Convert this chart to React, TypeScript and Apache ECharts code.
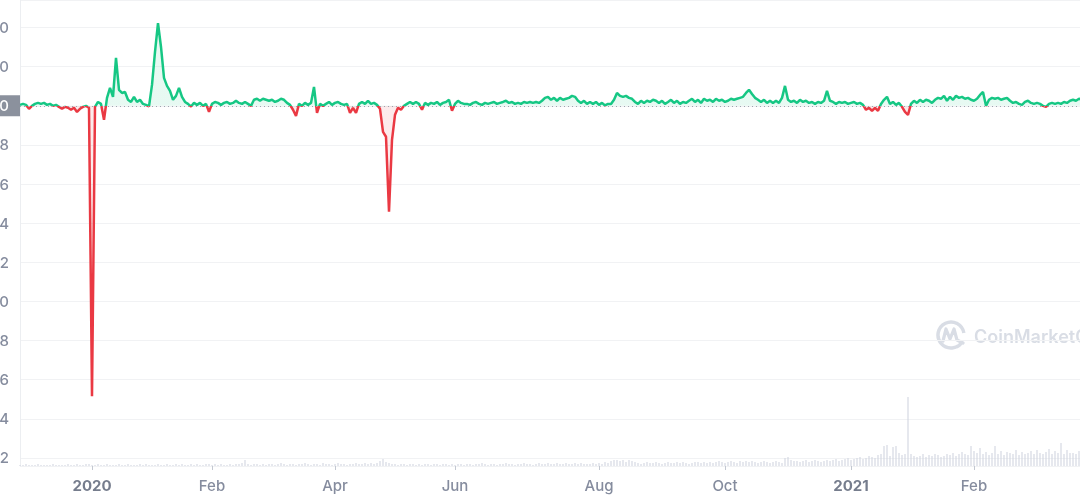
import React, { useEffect, useRef } from 'react';
import * as echarts from 'echarts';

// Price (USD), one point per plotted step
const prices: number[] = [
  1.00005, 1.00010, 1.00005, 0.99985, 1.00000, 1.00010, 1.00015, 1.00010, 1.00015, 1.00005,
  1.00010, 1.00000, 1.00005, 0.99995, 0.99985, 0.99995, 0.99990, 0.99980, 0.99990, 0.99969,
  0.99985, 0.99995, 1.00000, 0.99990, 0.98516, 0.99995, 1.00020, 1.00010, 0.99929, 1.00041,
  1.00092, 1.00046, 1.00245, 1.00082, 1.00066, 1.00071, 1.00031, 1.00020, 1.00046, 1.00020,
  1.00031, 1.00010, 1.00005, 0.99997, 1.00107, 1.00276, 1.00423, 1.00301, 1.00143, 1.00102,
  1.00077, 1.00031, 1.00051, 1.00092, 1.00046, 1.00020, 1.00010, 0.99997, 1.00015, 1.00005,
  1.00015, 1.00000, 1.00010, 0.99969, 1.00010, 1.00020, 1.00015, 1.00005, 1.00015, 1.00020,
  1.00010, 1.00015, 1.00026, 1.00015, 1.00010, 1.00020, 1.00010, 1.00000, 1.00031, 1.00036,
  1.00026, 1.00036, 1.00031, 1.00026, 1.00031, 1.00020, 1.00026, 1.00036, 1.00031, 1.00015,
  1.00005, 0.99980, 0.99949, 1.00010, 1.00000, 1.00015, 1.00005, 1.00015, 1.00097, 0.99964,
  1.00010, 1.00000, 1.00010, 1.00020, 1.00005, 1.00015, 1.00020, 1.00010, 1.00005, 1.00010,
  0.99964, 0.99990, 0.99964, 1.00010, 1.00020, 1.00010, 1.00026, 1.00010, 1.00015, 1.00005,
  0.99985, 0.99867, 0.99842, 0.99459, 0.99826, 0.99954, 0.99990, 0.99980, 1.00000, 1.00010,
  1.00020, 1.00010, 1.00020, 1.00010, 0.99980, 1.00015, 1.00005, 1.00015, 1.00010, 1.00020,
  1.00005, 1.00015, 1.00020, 1.00031, 0.99975, 1.00010, 1.00026, 1.00015, 1.00010, 1.00010,
  1.00005, 1.00015, 1.00020, 1.00010, 1.00005, 1.00015, 1.00010, 1.00015, 1.00020, 1.00010,
  1.00015, 1.00020, 1.00026, 1.00015, 1.00020, 1.00010, 1.00015, 1.00010, 1.00020, 1.00015,
  1.00020, 1.00015, 1.00020, 1.00015, 1.00026, 1.00041, 1.00046, 1.00031, 1.00041, 1.00026,
  1.00041, 1.00031, 1.00036, 1.00041, 1.00051, 1.00046, 1.00026, 1.00015, 1.00026, 1.00010,
  1.00020, 1.00010, 1.00020, 1.00005, 1.00015, 1.00002, 1.00010, 1.00010, 1.00031, 1.00066,
  1.00051, 1.00046, 1.00051, 1.00041, 1.00036, 1.00020, 1.00010, 1.00026, 1.00015, 1.00026,
  1.00020, 1.00031, 1.00026, 1.00015, 1.00026, 1.00010, 1.00020, 1.00031, 1.00015, 1.00026,
  1.00010, 1.00020, 1.00015, 1.00026, 1.00036, 1.00020, 1.00031, 1.00015, 1.00036, 1.00026,
  1.00031, 1.00020, 1.00036, 1.00026, 1.00031, 1.00020, 1.00026, 1.00036, 1.00031, 1.00036,
  1.00041, 1.00046, 1.00066, 1.00082, 1.00061, 1.00041, 1.00031, 1.00020, 1.00031, 1.00015,
  1.00026, 1.00015, 1.00026, 1.00015, 1.00041, 1.00102, 1.00031, 1.00020, 1.00026, 1.00015,
  1.00031, 1.00020, 1.00026, 1.00015, 1.00020, 1.00010, 1.00020, 1.00015, 1.00026, 1.00077,
  1.00026, 1.00020, 1.00010, 1.00020, 1.00015, 1.00020, 1.00010, 1.00015, 1.00020, 1.00010,
  1.00015, 1.00005, 0.99980, 0.99990, 0.99975, 0.99990, 0.99975, 1.00010, 1.00031, 1.00046,
  1.00010, 1.00020, 1.00005, 1.00015, 0.99995, 0.99969, 0.99954, 1.00010, 1.00026, 1.00015,
  1.00031, 1.00020, 1.00031, 1.00026, 1.00015, 1.00031, 1.00041, 1.00036, 1.00051, 1.00026,
  1.00046, 1.00031, 1.00051, 1.00041, 1.00046, 1.00036, 1.00041, 1.00031, 1.00026, 1.00036,
  1.00056, 1.00071, 1.00000, 1.00031, 1.00041, 1.00036, 1.00041, 1.00031, 1.00036, 1.00041,
  1.00026, 1.00015, 1.00020, 1.00010, 1.00005, 1.00020, 1.00026, 1.00015, 1.00010, 1.00015,
  1.00010, 1.00000, 0.99995, 1.00010, 1.00015, 1.00010, 1.00015, 1.00010, 1.00020, 1.00015,
  1.00026, 1.00031, 1.00026, 1.00036, 1.00031,
];

// Trading volume (relative units), one bar per price point
const volumes: number[] = [
  1, 1, 2, 1, 1, 1, 2, 1, 1, 1, 1, 2, 1, 1, 1, 1, 2, 1, 1, 2, 1, 1, 2, 2, 1,
  1, 2, 1, 1, 2, 1, 1, 1, 2, 1, 1, 2, 1, 1, 1, 2, 1, 2, 1, 1, 1, 2, 1, 1, 2,
  1, 1, 2, 1, 2, 1, 1, 2, 1, 2, 1, 1, 2, 2, 1,
  2, 1, 2, 1, 1, 2, 1, 2, 2, 3, 6,
  2, 1, 2, 2, 1, 2, 1, 2, 2, 1, 2, 3, 2, 1, 2, 2, 1, 2, 2, 3, 2, 1, 2, 2, 1,
  3, 2, 2, 1, 2, 3, 2, 2, 1, 2, 2, 3, 2, 2, 3, 2, 3, 2,
  3, 5, 7, 4, 3, 2,
  2, 1, 2, 2, 1, 2, 2, 1, 2, 1, 2, 2, 1, 2, 2, 1, 2, 2, 1, 2, 1, 2, 2, 1, 2,
  2, 1, 2, 2, 3, 2, 1, 2, 2, 1, 2, 2, 3, 2, 2, 1, 2, 2, 3, 2, 2, 1, 2, 3, 2,
  2, 3, 2, 2, 3, 2, 2, 3, 2, 2, 3, 2, 3, 2, 2,
  2, 3, 2, 3, 2, 4, 3, 5, 6, 6, 5, 6, 4, 6, 5, 4, 3, 2, 3, 4, 3, 3, 4, 3, 2,
  3, 4, 3, 3, 4, 3, 4, 3, 2, 3, 4, 4, 3, 4, 3, 4, 3, 4, 5, 4, 3, 4, 5, 4, 3,
  5, 4, 5, 4, 5, 4, 3, 4, 5, 4, 3, 4, 5, 4, 3, 8, 9, 6, 5, 5,
  4, 5, 6, 4, 5, 6, 5, 4, 5, 6, 5, 6, 7, 5, 6, 7, 8, 6, 7, 8,
  9, 7, 8, 10, 9, 8, 11, 12, 20, 21, 10, 19, 20, 13, 11, 12, 69, 12, 10, 9,
  10, 12, 9, 11, 10, 12, 11, 9, 10, 12, 11, 13, 10, 12, 14, 12, 11, 20, 15, 13,
  18, 12, 14, 11, 13, 20, 12, 15, 11, 14, 13, 12, 16, 11, 14, 12, 13, 15, 12, 16,
  13, 12, 14, 17, 12, 15, 13, 23, 12, 16, 13, 13, 12, 15, 11,
];

// X-axis tick positions (point index) and their labels
const tickIndex: number[] = [24, 64, 105, 145, 193, 235, 277, 318];
const tickText: string[] = ['2020', 'Feb', 'Apr', 'Jun', 'Aug', 'Oct', '2021', 'Feb'];

const baseline = 1.0;

export default function App() {
  const ref = useRef<HTMLDivElement>(null);

  useEffect(() => {
    if (!ref.current) return;
    const chart = echarts.init(ref.current, undefined, { renderer: 'svg' });
    const categories = prices.map((_, i) => String(i));
    const fmtPrice = (v: number) => (v >= 0.99999 ? v.toFixed(2) : v.toFixed(3));
    const isTick = (i: number) => tickIndex.indexOf(i) >= 0;
    const labelFor = (v: string) => {
      const k = tickIndex.indexOf(Number(v));
      if (k < 0) return '';
      const t = tickText[k];
      return /^\d{4}$/.test(t) ? `{yr|${t}}` : t;
    };
    const wm = '#d9dde5';
    const labelColor = '#858c9e';

    chart.setOption({
      animation: false,
      textStyle: { fontFamily: 'Inter, "Noto Sans", sans-serif' },
      grid: [
        { left: 80, right: 58, top: 0, height: 466 },
        { left: 80, right: 58, top: 380, height: 86 },
      ],
      xAxis: [
        {
          type: 'category',
          gridIndex: 0,
          data: categories,
          boundaryGap: false,
          show: false,
        },
        {
          type: 'category',
          gridIndex: 1,
          data: categories,
          boundaryGap: false,
          axisLine: { show: false },
          axisTick: {
            show: true,
            interval: (i: number) => isTick(i),
            length: 4,
            lineStyle: { color: '#c3c8d1' },
          },
          axisLabel: {
            interval: (i: number) => isTick(i),
            formatter: (v: string) => labelFor(v),
            margin: 12,
            color: labelColor,
            fontSize: 15,
            fontWeight: 500,
            fontFamily: 'Inter',
            rich: {
              yr: { fontWeight: 700, color: '#767d8d', fontSize: 15, fontFamily: 'Inter' },
            },
          },
          splitLine: { show: false },
        },
      ],
      yAxis: [
        {
          type: 'value',
          gridIndex: 0,
          min: 0.98159,
          max: 1.005411,
          splitNumber: 12,
          axisLine: { show: true, lineStyle: { color: '#eceef1' } },
          axisTick: { show: false },
          axisLabel: {
            margin: 11,
            color: labelColor,
            fontSize: 15,
            fontWeight: 500,
            fontFamily: 'Inter',
            formatter: fmtPrice,
            showMinLabel: false,
            showMaxLabel: false,
          },
          splitLine: { show: true, lineStyle: { color: '#f1f2f4', width: 1 } },
        },
        {
          type: 'value',
          gridIndex: 1,
          min: 0,
          max: 86,
          show: false,
          splitLine: { show: false },
        },
      ],
      visualMap: {
        show: false,
        type: 'piecewise',
        seriesIndex: 0,
        dimension: 1,
        pieces: [
          { lte: baseline, color: '#ea3943' },
          { gt: baseline, lte: 2, color: '#16c784' },
          { gt: 2, color: '#16c784' },
        ],
      },
      series: [
        {
          type: 'line',
          xAxisIndex: 0,
          yAxisIndex: 0,
          data: prices,
          symbol: 'none',
          showSymbol: false,
          z: 4,
          lineStyle: { width: 2.5 },
          areaStyle: { origin: baseline, opacity: 0.1 },
          markLine: {
            silent: true,
            symbol: ['none', 'none'],
            lineStyle: { type: [1, 3], color: '#9ea4af', width: 1 },
            label: {
              show: true,
              position: 'start',
              distance: 0,
              formatter: () => fmtPrice(baseline),
              color: '#ffffff',
              backgroundColor: '#8b919d',
              padding: [2, 11, 2, 8],
              lineHeight: 17,
              fontSize: 15,
              fontWeight: 500,
              fontFamily: 'Inter',
            },
            data: [{ yAxis: baseline }],
          },
        },
        {
          type: 'bar',
          xAxisIndex: 1,
          yAxisIndex: 1,
          data: volumes,
          barWidth: 1,
          z: 1,
          itemStyle: { color: '#cdd2de' },
        },
      ],
      graphic: [
        {
          type: 'arc',
          shape: { cx: 1011, cy: 335, r: 13, startAngle: 0.55, endAngle: Math.PI * 2 - 0.15, clockwise: true },
          style: { stroke: wm, lineWidth: 3.5, fill: 'none' },
          z: 0,
        },
        {
          type: 'polyline',
          shape: { points: [[1003, 341], [1006, 329], [1010, 339], [1014, 329], [1017, 340], [1023, 343]] },
          style: { stroke: wm, lineWidth: 3.2, fill: 'none', lineJoin: 'round', lineCap: 'round' },
          z: 0,
        },
        {
          type: 'text',
          x: 1034,
          y: 336,
          style: {
            text: 'CoinMarketCap',
            fontSize: 18,
            fontWeight: 600,
            fill: wm,
            fontFamily: 'Inter',
            verticalAlign: 'middle',
          },
          z: 0,
        },
      ],
    });

    return () => chart.dispose();
  }, []);

  return (
    <div
      ref={ref}
      style={{ position: 'fixed', left: -60, top: 0, width: 1200, height: 500 }}
    />
  );
}
